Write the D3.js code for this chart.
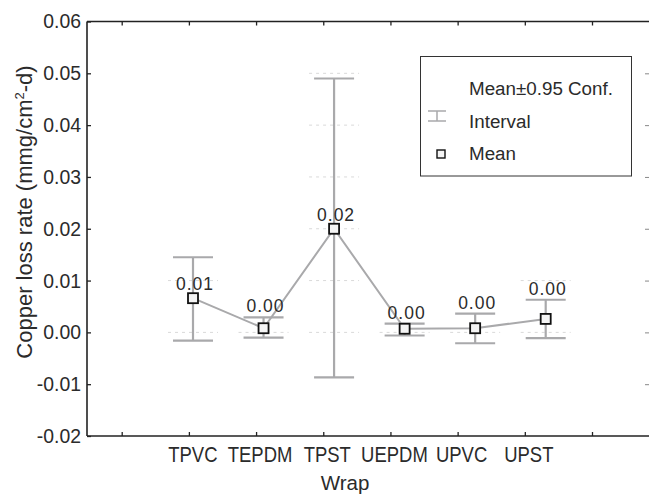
<!DOCTYPE html>
<html>
<head>
<meta charset="utf-8">
<script src="https://cdn.jsdelivr.net/npm/d3@7"></script>
<style>
  body { margin: 0; background: #fff; }
  svg { display: block; }
  text { fill: #2b2b2b; }
</style>
</head>
<body>
<div id="chart"></div>
<script>
const width = 649
const height = 496

// data
const wraps = ["TPVC", "TEPDM", "TPST", "UEPDM", "UPVC", "UPST"];
const means = [0.0066, 0.0008, 0.0200, 0.0007, 0.0008, 0.0026];
const ciLow = [-0.0016, -0.0010, -0.0087, -0.0006, -0.0021, -0.0011];
const ciHigh = [0.0145, 0.0029, 0.0490, 0.0017, 0.0036, 0.0063];
const meanLabels = ["0.01", "0.00", "0.02", "0.00", "0.00", "0.00"];
const yTicks = [0.06, 0.05, 0.04, 0.03, 0.02, 0.01, 0.00, -0.01, -0.02];
const xSlots = [0, 1, 2, 3, 4, 5, 6, 7]; // axis tick slots, labels sit on 1..6

const plot = { left: 87, top: 21.5, right: 649, bottom: 436 };

const svg = d3.select('#chart')
  .append('svg')
  .attr('width', width)
  .attr('height', height);

let y = d3.scaleLinear()
  .domain([-0.02, 0.06])
  .range([plot.bottom, plot.top]);

// tick marks on the frame (statistica style, not aligned with the points)
let xTick = d3.scaleLinear()
  .domain([0, 7])
  .range([121.7, 592]);

// where the means are drawn
let x = d3.scalePoint()
  .domain(wraps)
  .range([193, 545.7]);

const grey = "#a9a9ab";
const fmt = d => d3.format(".2f")(d).replace("−", "-");

// short dashed grid fragments around each error bar
const gridBits = [];
wraps.forEach((w, i) => {
  yTicks.forEach(t => {
    if (t >= ciLow[i] - 0.001 && t <= ciHigh[i] + 0.004) gridBits.push({ w: w, t: t });
  });
});
svg.append("g")
  .selectAll("line")
  .data(gridBits)
  .join("line")
  .attr("x1", d => x(d.w) - 25)
  .attr("x2", d => x(d.w) + 25)
  .attr("y1", d => y(d.t))
  .attr("y2", d => y(d.t))
  .attr("stroke", "#d9d9d9")
  .attr("stroke-width", 1)
  .attr("stroke-dasharray", "3,4");

// frame: left axis, top and bottom lines
const frame = svg.append("g").attr("stroke", "#222").attr("stroke-width", 1.6);
frame.append("line").attr("x1", plot.left).attr("x2", plot.left).attr("y1", plot.top).attr("y2", plot.bottom);
frame.append("line").attr("x1", plot.left).attr("x2", plot.right).attr("y1", plot.top).attr("y2", plot.top);
frame.append("line").attr("x1", plot.left).attr("x2", plot.right).attr("y1", plot.bottom).attr("y2", plot.bottom);

// y axis
let yAxis = g => g
  .attr("transform", `translate(${plot.left},0)`)
  .call(d3.axisRight(y).tickValues(yTicks).tickSize(4).tickFormat(""))
  .call(g => g.select(".domain").remove())
  .call(g => g.selectAll(".tick line").attr("stroke", "#222").attr("stroke-width", 1.3));
svg.append("g").call(yAxis);

svg.append("g")
  .selectAll("text")
  .data(yTicks)
  .join("text")
  .attr("x", plot.left - 6)
  .attr("y", d => y(d))
  .attr("dy", "0.36em")
  .attr("text-anchor", "end")
  .attr("font-family", "Liberation Sans, Arial, sans-serif")
  .attr("font-size", 19.4)
  .text(fmt);

// faint ticks on the right edge
svg.append("g")
  .attr("transform", `translate(${plot.right},0)`)
  .call(d3.axisLeft(y).tickValues(yTicks.slice(1, -1)).tickSize(4).tickFormat(""))
  .call(g => g.select(".domain").remove())
  .call(g => g.selectAll(".tick line").attr("stroke", "#888"));

// x ticks, top and bottom
svg.append("g")
  .attr("transform", `translate(0,${plot.bottom})`)
  .call(d3.axisTop(xTick).tickValues(xSlots).tickSize(4).tickFormat(""))
  .call(g => g.select(".domain").remove())
  .call(g => g.selectAll(".tick line").attr("stroke", "#222").attr("stroke-width", 1.3));
svg.append("g")
  .attr("transform", `translate(0,${plot.top})`)
  .call(d3.axisBottom(xTick).tickValues(xSlots).tickSize(4).tickFormat(""))
  .call(g => g.select(".domain").remove())
  .call(g => g.selectAll(".tick line").attr("stroke", "#222").attr("stroke-width", 1.3));

// condensed category labels
svg.append("g")
  .selectAll("text")
  .data(wraps)
  .join("text")
  .attr("transform", (d, i) => `translate(${xTick(i + 1) + 4},462) scale(0.84,1)`)
  .attr("text-anchor", "middle")
  .attr("font-family", "Liberation Sans, Arial, sans-serif")
  .attr("font-size", 22)
  .text(d => d);

// axis titles
svg.append("text")
  .attr("x", 345)
  .attr("y", 490)
  .attr("text-anchor", "middle")
  .attr("font-family", "Liberation Sans, Arial, sans-serif")
  .attr("font-size", 20.5)
  .text("Wrap");

const yTitle = svg.append("text")
  .attr("transform", "translate(32,212) rotate(-90)")
  .attr("text-anchor", "middle")
  .attr("font-family", "Liberation Sans, Arial, sans-serif")
  .attr("font-size", 22);
yTitle.append("tspan").text("Copper loss rate (mmg/cm");
yTitle.append("tspan").attr("font-size", 13).attr("dy", -8).text("2");
yTitle.append("tspan").attr("dy", 8).text("-d)");

// error bars
const bars = svg.append("g")
  .attr("stroke", grey)
  .attr("stroke-width", 2.2)
  .selectAll("g")
  .data(wraps)
  .join("g");
bars.append("line")
  .attr("x1", d => x(d)).attr("x2", d => x(d))
  .attr("y1", (d, i) => y(ciLow[i])).attr("y2", (d, i) => y(ciHigh[i]));
bars.append("line")
  .attr("x1", d => x(d) - 20).attr("x2", d => x(d) + 20)
  .attr("y1", (d, i) => y(ciHigh[i])).attr("y2", (d, i) => y(ciHigh[i]));
bars.append("line")
  .attr("x1", d => x(d) - 20).attr("x2", d => x(d) + 20)
  .attr("y1", (d, i) => y(ciLow[i])).attr("y2", (d, i) => y(ciLow[i]));

// line through means
svg.append("path")
  .datum(wraps)
  .attr("fill", "none")
  .attr("stroke", grey)
  .attr("stroke-width", 2)
  .attr("d", d3.line().x(d => x(d)).y((d, i) => y(means[i])));

// mean labels: above the point, or above the cap if the cap is close
svg.append("g")
  .selectAll("text")
  .data(wraps)
  .join("text")
  .attr("x", d => x(d) + 2)
  .attr("y", (d, i) => {
    let py = y(means[i]);
    let cy = y(ciHigh[i]);
    return (py - cy > 20) ? py - 8 : cy - 5;
  })
  .attr("text-anchor", "middle")
  .attr("font-family", "Liberation Sans, Arial, sans-serif")
  .attr("font-size", 17.5)
  .attr("letter-spacing", 1)
  .text((d, i) => meanLabels[i]);

// mean squares
svg.append("g")
  .selectAll("rect")
  .data(wraps)
  .join("rect")
  .attr("x", d => x(d) - 5)
  .attr("y", (d, i) => y(means[i]) - 5)
  .attr("width", 10)
  .attr("height", 10)
  .attr("fill", "#f4f4f4")
  .attr("stroke", "#111")
  .attr("stroke-width", 1.8);

// legend
const legend = svg.append("g");
legend.append("rect")
  .attr("x", 420.5).attr("y", 56.5)
  .attr("width", 211).attr("height", 119.5)
  .attr("fill", "#fff")
  .attr("stroke", "#333")
  .attr("stroke-width", 1);
const icon = legend.append("g").attr("stroke", grey).attr("stroke-width", 1.5);
icon.append("line").attr("x1", 428).attr("x2", 446).attr("y1", 111).attr("y2", 111);
icon.append("line").attr("x1", 428).attr("x2", 446).attr("y1", 121).attr("y2", 121);
icon.append("line").attr("x1", 437).attr("x2", 437).attr("y1", 111).attr("y2", 121);
legend.append("rect")
  .attr("x", 437).attr("y", 150)
  .attr("width", 8).attr("height", 8)
  .attr("fill", "#f4f4f4")
  .attr("stroke", "#111")
  .attr("stroke-width", 1.4);
legend.selectAll("text.leg")
  .data(["Mean±0.95 Conf.", "Interval", "Mean"])
  .join("text")
  .attr("class", "leg")
  .attr("x", 469)
  .attr("y", (d, i) => 95 + i * 32.5)
  .attr("font-family", "Liberation Sans, Arial, sans-serif")
  .attr("font-size", 18.8)
  .text(d => d);
</script>
</body>
</html>
